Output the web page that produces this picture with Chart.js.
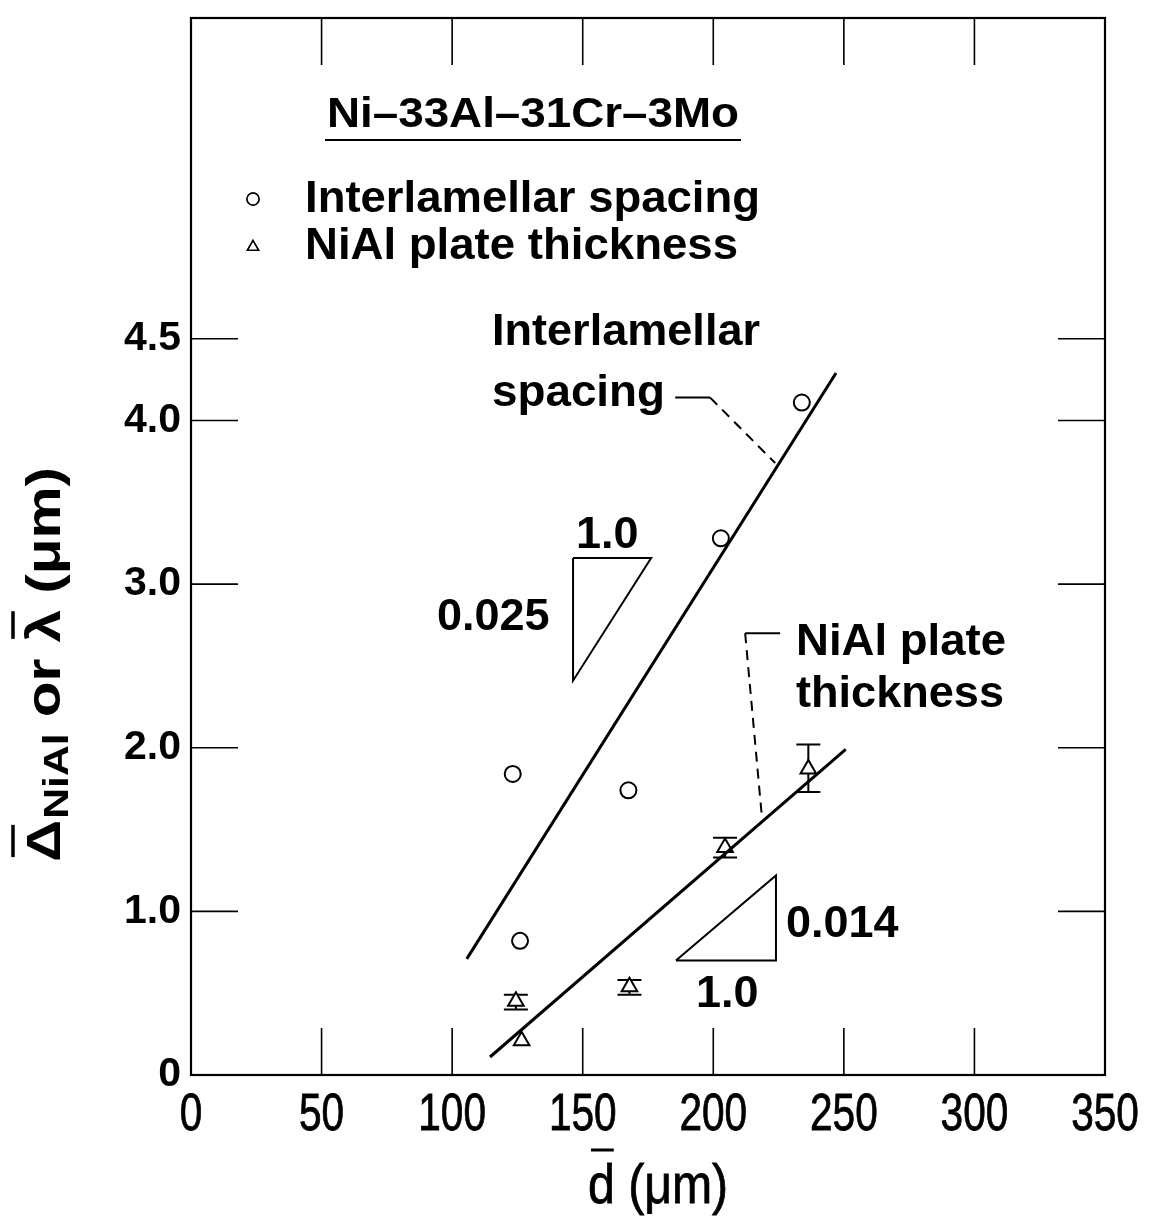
<!DOCTYPE html>
<html>
<head>
<meta charset="utf-8">
<script src="https://cdn.jsdelivr.net/npm/chart.js@4/dist/chart.umd.min.js"></script>
<style>
  html, body { margin: 0; padding: 0; background: #fff; }
  #wrap { width: 1156px; height: 1220px; }
</style>
</head>
<body>
<div id="wrap"><canvas id="c" width="1156" height="1220"></canvas></div>
<script>
// ---------------- data ----------------
const X_TICKS = [0, 50, 100, 150, 200, 250, 300, 350];
const Y_TICKS = [0, 1.0, 2.0, 3.0, 4.0, 4.5];

// Interlamellar spacing (circles)
const spacingD = [123.2, 126.0, 167.5, 202.9, 233.9];
const spacingLambda = [1.84, 0.82, 1.74, 3.28, 4.11];

// NiAl plate thickness (triangles) with error bars
const plateD = [124.4, 126.6, 167.9, 204.5, 236.4];
const plateDelta = [0.45, 0.21, 0.54, 1.39, 1.87];
const plateErrLow = [0.40, null, 0.49, 1.33, 1.73];
const plateErrHigh = [0.49, null, 0.58, 1.45, 2.02];

// fitted lines
const spacingFitD = [105.6, 247.0];
const spacingFitY = [0.71, 4.29];
const plateFitD = [114.5, 250.7];
const plateFitY = [0.11, 1.99];

// slope triangles
const slope1D = [146.3, 176.2, 146.3, 146.3];
const slope1Y = [3.16, 3.16, 2.41, 3.16];
const slope2D = [185.7, 224.0, 224.0, 185.7];
const slope2Y = [0.70, 1.22, 0.70, 0.70];

// leader lines for the line labels
const spacingLeaderSolidD = [185.4, 198.8];
const spacingLeaderSolidY = [4.14, 4.14];
const spacingLeaderDashD = [198.8, 223.7];
const spacingLeaderDashY = [4.14, 3.74];
const plateLeaderSolidD = [212.2, 225.6];
const plateLeaderSolidY = [2.70, 2.70];
const plateLeaderDashD = [212.2, 218.6];
const plateLeaderDashY = [2.70, 1.58];

const X_MIN = 0, X_MAX = 350, Y_MIN = 0, Y_MAX = 6.46;

// ---------------- helpers ----------------
const pts = (xs, ys) => xs.map((x, i) => ({ x: x, y: ys[i] }));
const SANS = '"Liberation Sans", Arial, Helvetica, sans-serif';

function lineSet(xs, ys, width, dash) {
  return {
    type: 'scatter',
    data: pts(xs, ys),
    showLine: true,
    borderColor: '#000',
    borderWidth: width,
    borderDash: dash || [],
    pointRadius: 0,
    pointHoverRadius: 0,
    fill: false,
    tension: 0,
    order: 0
  };
}

// draw text with horizontal stretch so it spans a given width
function fitText(ctx, text, x, y, width) {
  const w = ctx.measureText(text).width;
  ctx.save();
  ctx.translate(x, y);
  ctx.scale(width / w, 1);
  ctx.fillText(text, 0, 0);
  ctx.restore();
}

const decor = {
  id: 'decor',
  beforeDatasetsDraw(chart) {
    const ctx = chart.ctx;
    const xs = chart.scales.x, ys = chart.scales.y;
    // error bars (below the markers)
    ctx.save();
    ctx.strokeStyle = '#000';
    ctx.lineWidth = 2;
    for (let i = 0; i < plateD.length; i++) {
      if (plateErrLow[i] == null) continue;
      const px = xs.getPixelForValue(plateD[i]);
      const lo = ys.getPixelForValue(plateErrLow[i]);
      const hi = ys.getPixelForValue(plateErrHigh[i]);
      ctx.beginPath();
      ctx.moveTo(px, lo); ctx.lineTo(px, hi);
      ctx.moveTo(px - 12, lo); ctx.lineTo(px + 12, lo);
      ctx.moveTo(px - 12, hi); ctx.lineTo(px + 12, hi);
      ctx.stroke();
    }
    ctx.restore();
  },
  afterDraw(chart) {
    const ctx = chart.ctx;
    const a = chart.chartArea;
    const xs = chart.scales.x, ys = chart.scales.y;
    ctx.save();
    ctx.strokeStyle = '#000';
    ctx.fillStyle = '#000';
    // frame
    ctx.lineWidth = 2.2;
    ctx.strokeRect(a.left, a.top, a.right - a.left, a.bottom - a.top);
    // inward ticks
    const TL = 47;
    ctx.lineWidth = 1.6;
    ctx.beginPath();
    xs.ticks.forEach(t => {
      const v = t.value;
      if (v === X_MIN || v === X_MAX) return;
      const p = xs.getPixelForValue(v);
      ctx.moveTo(p, a.bottom); ctx.lineTo(p, a.bottom - TL);
      ctx.moveTo(p, a.top); ctx.lineTo(p, a.top + TL);
    });
    ys.ticks.forEach(t => {
      const v = t.value;
      if (v === Y_MIN) return;
      const p = ys.getPixelForValue(v);
      ctx.moveTo(a.left, p); ctx.lineTo(a.left + TL, p);
      ctx.moveTo(a.right, p); ctx.lineTo(a.right - TL, p);
    });
    ctx.stroke();

    // x tick labels (condensed, from the x scale ticks)
    ctx.font = '52px ' + SANS;
    ctx.textAlign = 'center';
    ctx.textBaseline = 'alphabetic';
    xs.ticks.forEach(t => {
      const p = xs.getPixelForValue(t.value);
      ctx.save();
      ctx.translate(p, a.bottom + 55);
      ctx.scale(0.78, 1);
      ctx.fillText(String(t.value), 0, 0);
      ctx.strokeStyle = '#000';
      ctx.lineWidth = 0.8;
      ctx.strokeText(String(t.value), 0, 0);
      ctx.restore();
    });

    // title (underlined)
    ctx.textAlign = 'left';
    ctx.font = 'bold 43px ' + SANS;
    fitText(ctx, 'Ni\u201333Al\u201331Cr\u20133Mo', 327, 127, 412);
    ctx.lineWidth = 2;
    ctx.beginPath(); ctx.moveTo(325, 140); ctx.lineTo(741, 140); ctx.stroke();

    // legend
    ctx.font = 'bold 45px ' + SANS;
    fitText(ctx, 'Interlamellar spacing', 305, 212, 455);
    fitText(ctx, 'NiAl plate thickness', 305, 259, 433);
    ctx.lineWidth = 1.5;
    ctx.fillStyle = '#fff';
    Chart.helpers.drawPoint(ctx, { pointStyle: 'circle', radius: 6, rotation: 0, borderWidth: 1.5 }, 253, 199);
    ctx.fill(); ctx.stroke();
    Chart.helpers.drawPoint(ctx, { pointStyle: 'triangle', radius: 6.5, rotation: 0, borderWidth: 1.5 }, 253, 247);
    ctx.fill(); ctx.stroke();
    ctx.fillStyle = '#000';

    // line labels and slope labels
    ctx.font = 'bold 45px ' + SANS;
    fitText(ctx, 'Interlamellar', 492, 345, 268);
    fitText(ctx, 'spacing', 492, 406, 173);
    fitText(ctx, 'NiAl plate', 796, 655, 210);
    fitText(ctx, 'thickness', 796, 707, 208);
    ctx.font = 'bold 45px ' + SANS;
    ctx.fillText('1.0', 576, 548);
    ctx.fillText('0.025', 437, 630);
    ctx.fillText('0.014', 786, 937);
    ctx.fillText('1.0', 696, 1007);

    // x axis title: d-bar (μm), condensed
    ctx.font = '56px ' + SANS;
    const xt = 'd (\u03bcm)';
    const sx = 0.86;
    const xx = 588;
    ctx.save();
    ctx.translate(xx, 1203);
    ctx.scale(sx, 1);
    ctx.fillText(xt, 0, 0);
    ctx.lineWidth = 0.8;
    ctx.strokeText(xt, 0, 0);
    ctx.restore();
    const dw = ctx.measureText('d').width * sx;
    ctx.lineWidth = 3;
    ctx.beginPath(); ctx.moveTo(xx + 3, 1150); ctx.lineTo(xx + dw - 1, 1150); ctx.stroke();

    // y axis title: Δ-bar_NiAl or λ-bar (μm), rotated
    const big = 'bold 48px ' + SANS, small = 'bold 35px ' + SANS;
    ctx.font = big;
    const wD = ctx.measureText('\u0394').width;
    const wl = ctx.measureText('\u03bb').width;
    const wOr = ctx.measureText(' or ').width;
    const wUm = ctx.measureText(' (\u03bcm)').width;
    ctx.font = small;
    const wNi = ctx.measureText('NiAl').width;
    const total = wD + 1 + wNi + wOr + wl + wUm;
    const stretch = 395 / total;
    ctx.translate(60, 862);
    ctx.rotate(-Math.PI / 2);
    ctx.scale(stretch, 1);
    let cx = 0;
    ctx.font = big;
    ctx.fillText('\u0394', cx, 0);
    ctx.lineWidth = 3.5;
    ctx.beginPath(); ctx.moveTo(cx + 4, -47); ctx.lineTo(cx + wD - 4, -47); ctx.stroke();
    cx += wD + 1;
    ctx.font = small;
    ctx.fillText('NiAl', cx, 8);
    cx += wNi;
    ctx.font = big;
    ctx.fillText(' or ', cx, 0);
    cx += wOr;
    ctx.fillText('\u03bb', cx, 0);
    ctx.beginPath(); ctx.moveTo(cx + 3, -47); ctx.lineTo(cx + wl - 1, -47); ctx.stroke();
    cx += wl;
    ctx.fillText(' (\u03bcm)', cx, 0);
    ctx.restore();
  }
};

new Chart(document.getElementById('c'), {
  type: 'scatter',
  data: {
    datasets: [
      lineSet(spacingFitD, spacingFitY, 3),
      lineSet(plateFitD, plateFitY, 3),
      lineSet(slope1D, slope1Y, 2),
      lineSet(slope2D, slope2Y, 2),
      lineSet(spacingLeaderSolidD, spacingLeaderSolidY, 2),
      lineSet(spacingLeaderDashD, spacingLeaderDashY, 2, [10, 7]),
      lineSet(plateLeaderSolidD, plateLeaderSolidY, 2),
      lineSet(plateLeaderDashD, plateLeaderDashY, 2, [10, 7]),
      {
        label: 'Interlamellar spacing',
        data: pts(spacingD, spacingLambda),
        pointStyle: 'circle',
        pointRadius: 8,
        pointBorderWidth: 2,
        pointBackgroundColor: '#fff',
        pointBorderColor: '#000',
        order: 1
      },
      {
        label: 'NiAl plate thickness',
        data: pts(plateD, plateDelta),
        pointStyle: 'triangle',
        pointRadius: 9,
        pointBorderWidth: 2,
        pointBackgroundColor: '#fff',
        pointBorderColor: '#000',
        order: 1
      }
    ]
  },
  options: {
    responsive: false,
    animation: false,
    events: [],
    layout: { padding: { left: 0, top: 18, right: 51, bottom: 0 } },
    plugins: { legend: { display: false }, tooltip: { enabled: false } },
    scales: {
      x: {
        type: 'linear', min: X_MIN, max: X_MAX,
        afterBuildTicks(s) { s.ticks = X_TICKS.map(v => ({ value: v })); },
        afterFit(s) { s.height = 145; s.paddingLeft = 0; s.paddingRight = 0; },
        grid: { display: false, drawTicks: false },
        border: { display: false },
        ticks: { display: false }
      },
      y: {
        type: 'linear', min: Y_MIN, max: Y_MAX,
        afterBuildTicks(s) { s.ticks = Y_TICKS.map(v => ({ value: v })); },
        afterFit(s) { s.width = 191; s.paddingTop = 0; s.paddingBottom = 0; },
        grid: { display: false, drawTicks: false },
        border: { display: false },
        ticks: {
          padding: 10,
          color: '#000',
          autoSkip: false,
          font: { family: SANS, size: 41, weight: 'bold' },
          callback: v => (v === 0 ? '0' : Number(v).toFixed(1))
        }
      }
    }
  },
  plugins: [decor]
});
</script>
</body>
</html>
